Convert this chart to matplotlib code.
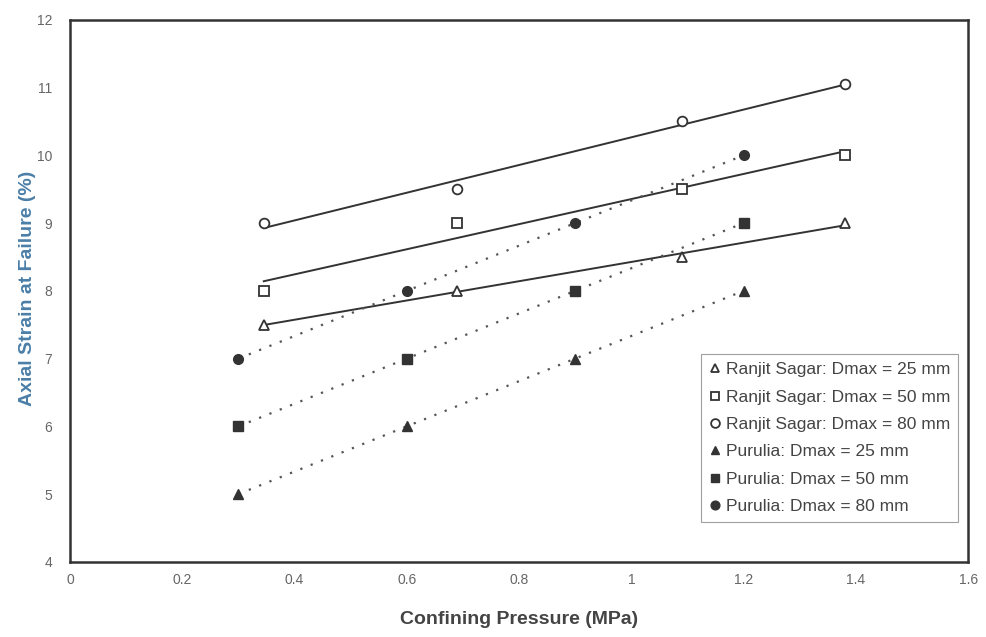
import numpy as np
import matplotlib
matplotlib.use('Agg')
import matplotlib.pyplot as plt

plt.rcParams['font.family'] = ['Liberation Sans', 'DejaVu Sans']

# Ranjit Sagar (open markers, solid linear fits)
rs_x = [0.345, 0.69, 1.09, 1.38]
rs_25 = [7.5, 8.0, 8.5, 9.0]
rs_50 = [8.0, 9.0, 9.5, 10.0]
rs_80 = [9.0, 9.5, 10.5, 11.05]

# Purulia (filled markers, dotted lines)
pu_x = [0.3, 0.6, 0.9, 1.2]
pu_25 = [5.0, 6.0, 7.0, 8.0]
pu_50 = [6.0, 7.0, 8.0, 9.0]
pu_80 = [7.0, 8.0, 9.0, 10.0]

xticks = [0, 0.2, 0.4, 0.6, 0.8, 1, 1.2, 1.4, 1.6]
xtick_labels = ['0', '0.2', '0.4', '0.6', '0.8', '1', '1.2', '1.4', '1.6']
yticks = [4, 5, 6, 7, 8, 9, 10, 11, 12]

fig = plt.figure(figsize=(9.87, 6.37), dpi=100)
ax = fig.add_axes([0.071, 0.118, 0.910, 0.851])

dark = '#333333'
ms = 7

# Ranjit Sagar
rs_series = [(rs_25, '^', 'Ranjit Sagar: Dmax = 25 mm'),
             (rs_50, 's', 'Ranjit Sagar: Dmax = 50 mm'),
             (rs_80, 'o', 'Ranjit Sagar: Dmax = 80 mm')]
for ys, m, lab in rs_series:
    k, b = np.polyfit(rs_x, ys, 1)
    xs = np.array([rs_x[0], rs_x[-1]])
    ax.plot(xs, k * xs + b, color=dark, lw=1.4, zorder=2)
    ax.plot(rs_x, ys, linestyle='none', marker=m, ms=ms, mfc='white',
            mec=dark, mew=1.3, label=lab, zorder=3)

# Purulia
pu_series = [(pu_25, '^', 'Purulia: Dmax = 25 mm'),
             (pu_50, 's', 'Purulia: Dmax = 50 mm'),
             (pu_80, 'o', 'Purulia: Dmax = 80 mm')]
for ys, m, lab in pu_series:
    ax.plot(pu_x, ys, color='#555555', lw=1.6, linestyle=(0, (1, 4)), zorder=2)
    ax.plot(pu_x, ys, linestyle='none', marker=m, ms=ms, mfc=dark,
            mec=dark, label=lab, zorder=3)

ax.set_xlim(0, 1.6)
ax.set_ylim(4, 12)
ax.set_xticks(xticks)
ax.set_xticklabels(xtick_labels)
ax.set_yticks(yticks)
ax.tick_params(length=0, labelsize=10, colors='#666666')
ax.tick_params(axis='x', pad=8)
ax.tick_params(axis='y', pad=13)

for s in ax.spines.values():
    s.set_color('#333333')
    s.set_linewidth(1.8)

ax.set_xlabel('Confining Pressure (MPa)', fontsize=14, fontweight='bold',
              color='#444444')
ax.xaxis.set_label_coords(0.5, -0.09)
ax.set_ylabel('Axial Strain at Failure (%)', fontsize=14, fontweight='bold',
              color='#4a7fa8')
ax.yaxis.set_label_coords(-0.038, 0.505)

leg = ax.legend(loc='lower right', bbox_to_anchor=(0.989, 0.074),
                borderaxespad=0, fontsize=12.5, frameon=True, fancybox=False,
                edgecolor='#888888', handlelength=0.7, handletextpad=0.3,
                labelspacing=0.7, borderpad=0.45, markerscale=0.9)
for t in leg.get_texts():
    t.set_color('#444444')
leg.get_frame().set_linewidth(0.8)

fig.savefig('out.png', dpi=100, facecolor='white')
